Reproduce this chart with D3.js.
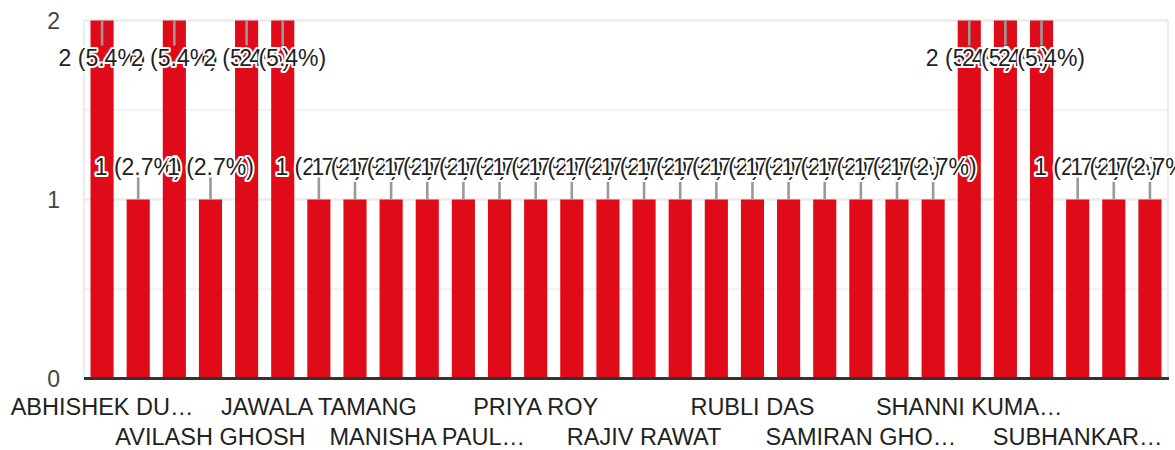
<!DOCTYPE html>
<html>
<head>
<meta charset="utf-8">
<script src="https://cdn.jsdelivr.net/npm/d3@7"></script>
<style>
  html, body { margin: 0; padding: 0; background: #fff; }
  svg { display: block; font-family: "Liberation Sans", Arial, sans-serif; }
</style>
</head>
<body>
<svg id="chart" width="1175" height="450"></svg>
<script>
// Categories (alphabetical, as in the form summary). Names not labelled in the chart are placeholders.
const categories = [
  "ABHISHEK DU…", "AMIT KUMAR", "ANKITA SHARMA", "AVILASH GHOSH", "BIKASH ROY",
  "DIPANKAR SAHA", "JAWALA TAMANG", "KARAN THAPA", "KOUSHIK DAS", "MANISHA PAUL…",
  "NEHA SINGH", "PRADIP MONDAL", "PRIYA ROY", "PUJA SARKAR", "RAHUL SHARMA",
  "RAJIV RAWAT", "RAKESH BARMAN", "RITU GUPTA", "RUBLI DAS", "SAGAR PRADHAN",
  "SAMIR ALI", "SAMIRAN GHO…", "SANJAY BOSE", "SHALINI RAI", "SHANNI KUMA…",
  "SHREYA DEY", "SNEHA BISWAS", "SUBHANKAR…", "SUMAN ROY", "TANIA SEN"
];
const counts = [
  2, 1, 2, 1, 2,
  2, 1, 1, 1, 1,
  1, 1, 1, 1, 1,
  1, 1, 1, 1, 1,
  1, 1, 1, 1, 2,
  2, 2, 1, 1, 1
];
const yTicks = [0, 1, 2];
const yGrid = [0.5, 1, 1.5, 2];

const svg = d3.select("#chart");
const total = d3.sum(counts);
const data = categories.map((c, i) => ({ name: c, value: counts[i], idx: i }));

const x = d3.scaleBand().domain(categories).range([84, 1168]).paddingInner(0.36).paddingOuter(0.18);
const y = d3.scaleLinear().domain([0, 2]).range([378.5, 20.5]);
const FONT = 23;
const CAT_FONT = 23.5;

// gridlines
svg.append("g").selectAll("line").data(yGrid).join("line")
  .attr("x1", 84).attr("x2", 1168)
  .attr("y1", d => y(d)).attr("y2", d => y(d))
  .attr("stroke", d => Number.isInteger(d) ? "#ebebeb" : "#f3f3f3")
  .attr("stroke-width", 2.5);
// frame verticals
svg.append("g").selectAll("line").data([84, 1168]).join("line")
  .attr("x1", d => d).attr("x2", d => d)
  .attr("y1", y(2)).attr("y2", y(0))
  .attr("stroke", "#ebebeb").attr("stroke-width", 2);

// bars
svg.append("g").selectAll("rect").data(data).join("rect")
  .attr("x", d => x(d.name))
  .attr("width", x.bandwidth())
  .attr("y", d => y(d.value))
  .attr("height", d => y(0) - y(d.value))
  .attr("fill", "#e00b18");

// baseline
svg.append("line")
  .attr("x1", 84).attr("x2", 1169)
  .attr("y1", y(0)).attr("y2", y(0))
  .attr("stroke", "#333").attr("stroke-width", 3);

// y tick labels
svg.append("g").selectAll("text").data(yTicks).join("text")
  .attr("x", 60).attr("y", d => y(d))
  .attr("dy", "0.36em")
  .attr("text-anchor", "end")
  .attr("font-size", FONT)
  .attr("fill", "#444")
  .text(d => d);

// annotation stems
const atTop = d => d.value >= 2;
svg.append("g").selectAll("line").data(data).join("line")
  .attr("x1", d => x(d.name) + x.bandwidth() / 2)
  .attr("x2", d => x(d.name) + x.bandwidth() / 2)
  .attr("y1", d => y(d.value))
  .attr("y2", d => atTop(d) ? y(d.value) + 25 : y(d.value) - 22)
  .attr("stroke", "#999").attr("stroke-width", 2.6);

// annotation labels
const pct = v => (v / total * 100).toFixed(1) + "%";
svg.append("g").selectAll("text").data(data).join("text")
  .attr("x", d => x(d.name) + x.bandwidth() / 2)
  .attr("y", d => atTop(d) ? y(d.value) + 45 : y(d.value) - 24.5)
  .attr("text-anchor", "middle")
  .attr("font-size", FONT)
  .attr("fill", "#222")
  .attr("stroke", "#fff")
  .attr("stroke-width", 4)
  .attr("stroke-linejoin", "round")
  .attr("paint-order", "stroke")
  .text(d => `${d.value} (${pct(d.value)})`);

// category labels: every 3rd, alternating rows
svg.append("g").selectAll("text").data(data.filter(d => d.idx % 3 === 0)).join("text")
  .attr("x", d => x(d.name) + x.bandwidth() / 2)
  .attr("y", d => ((d.idx / 3) % 2 === 0) ? 414.5 : 444.5)
  .attr("text-anchor", "middle")
  .attr("font-size", CAT_FONT)
  .attr("fill", "#222")
  .text(d => d.name);
</script>
</body>
</html>
